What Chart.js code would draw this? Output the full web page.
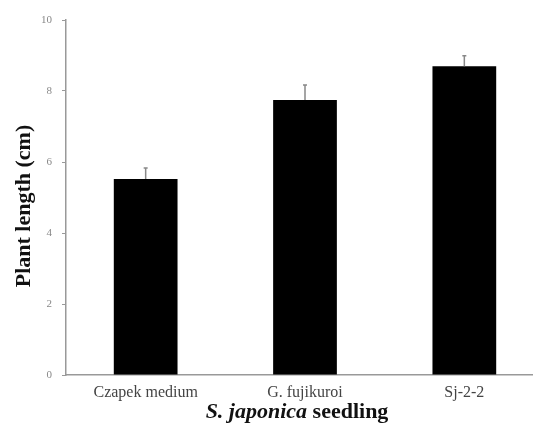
<!DOCTYPE html>
<html><head><meta charset="utf-8">
<script src="https://cdn.jsdelivr.net/npm/chart.js@4"></script>
<style>
html,body{margin:0;padding:0;background:#fff;overflow:hidden;width:533px;height:426px;}
#outer{width:533px;height:426px;overflow:hidden;position:relative;}
#wrap{width:544px;height:426px;position:absolute;left:0;top:0;}
</style></head>
<body><div id="outer"><div id="wrap"><canvas id="c"></canvas></div></div>
<script>
const categories = ["Czapek medium", "G. fujikuroi", "Sj-2-2"];
const plantLength = [5.52, 7.75, 8.70];
const plantLengthError = [0.31, 0.42, 0.29];
const yTicks = [0, 2, 4, 6, 8, 10];

const serif = '"Liberation Serif", "Times New Roman", serif';

const errorBars = {
  id: 'errorBars',
  afterDatasetsDraw(chart) {
    const ctx = chart.ctx, x = chart.scales.x, y = chart.scales.y;
    ctx.save();
    ctx.strokeStyle = '#888';
    ctx.lineWidth = 1.5;
    plantLength.forEach((v, i) => {
      const px = x.getPixelForValue(i);
      const top = y.getPixelForValue(v + plantLengthError[i]);
      const base = y.getPixelForValue(v);
      ctx.beginPath();
      ctx.moveTo(px, base); ctx.lineTo(px, top);
      ctx.moveTo(px - 2, top); ctx.lineTo(px + 2, top);
      ctx.stroke();
    });
    ctx.restore();
  }
};

const titles = {
  id: 'titles',
  afterDraw(chart) {
    const ctx = chart.ctx;
    ctx.save();
    ctx.fillStyle = '#111';
    ctx.translate(24, 206);
    ctx.rotate(-Math.PI / 2);
    ctx.font = 'bold 22px ' + serif;
    ctx.textAlign = 'center';
    ctx.textBaseline = 'middle';
    ctx.fillText('Plant length (cm)', 0, 0);
    ctx.restore();
    ctx.save();
    ctx.fillStyle = '#111';
    ctx.textBaseline = 'alphabetic';
    const p1 = 'S. japonica', p2 = ' seedling';
    ctx.font = 'italic bold 22px ' + serif;
    const w1 = ctx.measureText(p1).width;
    ctx.font = 'bold 22px ' + serif;
    const w2 = ctx.measureText(p2).width;
    const sx = 297 - (w1 + w2) / 2;
    ctx.font = 'italic bold 22px ' + serif;
    ctx.fillText(p1, sx, 418);
    ctx.font = 'bold 22px ' + serif;
    ctx.fillText(p2, sx + w1, 418);
    ctx.restore();
  }
};

new Chart(document.getElementById('c'), {
  type: 'bar',
  data: {
    labels: categories,
    datasets: [{
      data: plantLength,
      backgroundColor: '#000',
      borderWidth: 0,
      barPercentage: 0.4,
      categoryPercentage: 1.0
    }]
  },
  options: {
    responsive: true,
    maintainAspectRatio: false,
    animation: false,
    devicePixelRatio: 1,
    layout: { padding: { top: 20, right: 0, left: 0, bottom: 0 } },
    plugins: { legend: { display: false }, tooltip: { enabled: false } },
    scales: {
      x: {
        grid: { display: false },
        border: { display: true, color: '#999', width: 1.5 },
        ticks: { color: '#444', font: { family: serif, size: 16 }, padding: 0, maxRotation: 0 },
        afterFit(s) { s.height = 51; }
      },
      y: {
        min: 0, max: 10,
        afterBuildTicks(s) { s.ticks = yTicks.map(v => ({ value: v })); },
        grid: { drawOnChartArea: false, drawTicks: true, tickLength: 4, color: '#999' },
        border: { display: true, color: '#999', width: 1.5 },
        ticks: { color: '#888', font: { family: serif, size: 11 }, padding: 10 },
        afterFit(s) { s.width = 66; }
      }
    }
  },
  plugins: [errorBars, titles]
});
</script></body></html>
